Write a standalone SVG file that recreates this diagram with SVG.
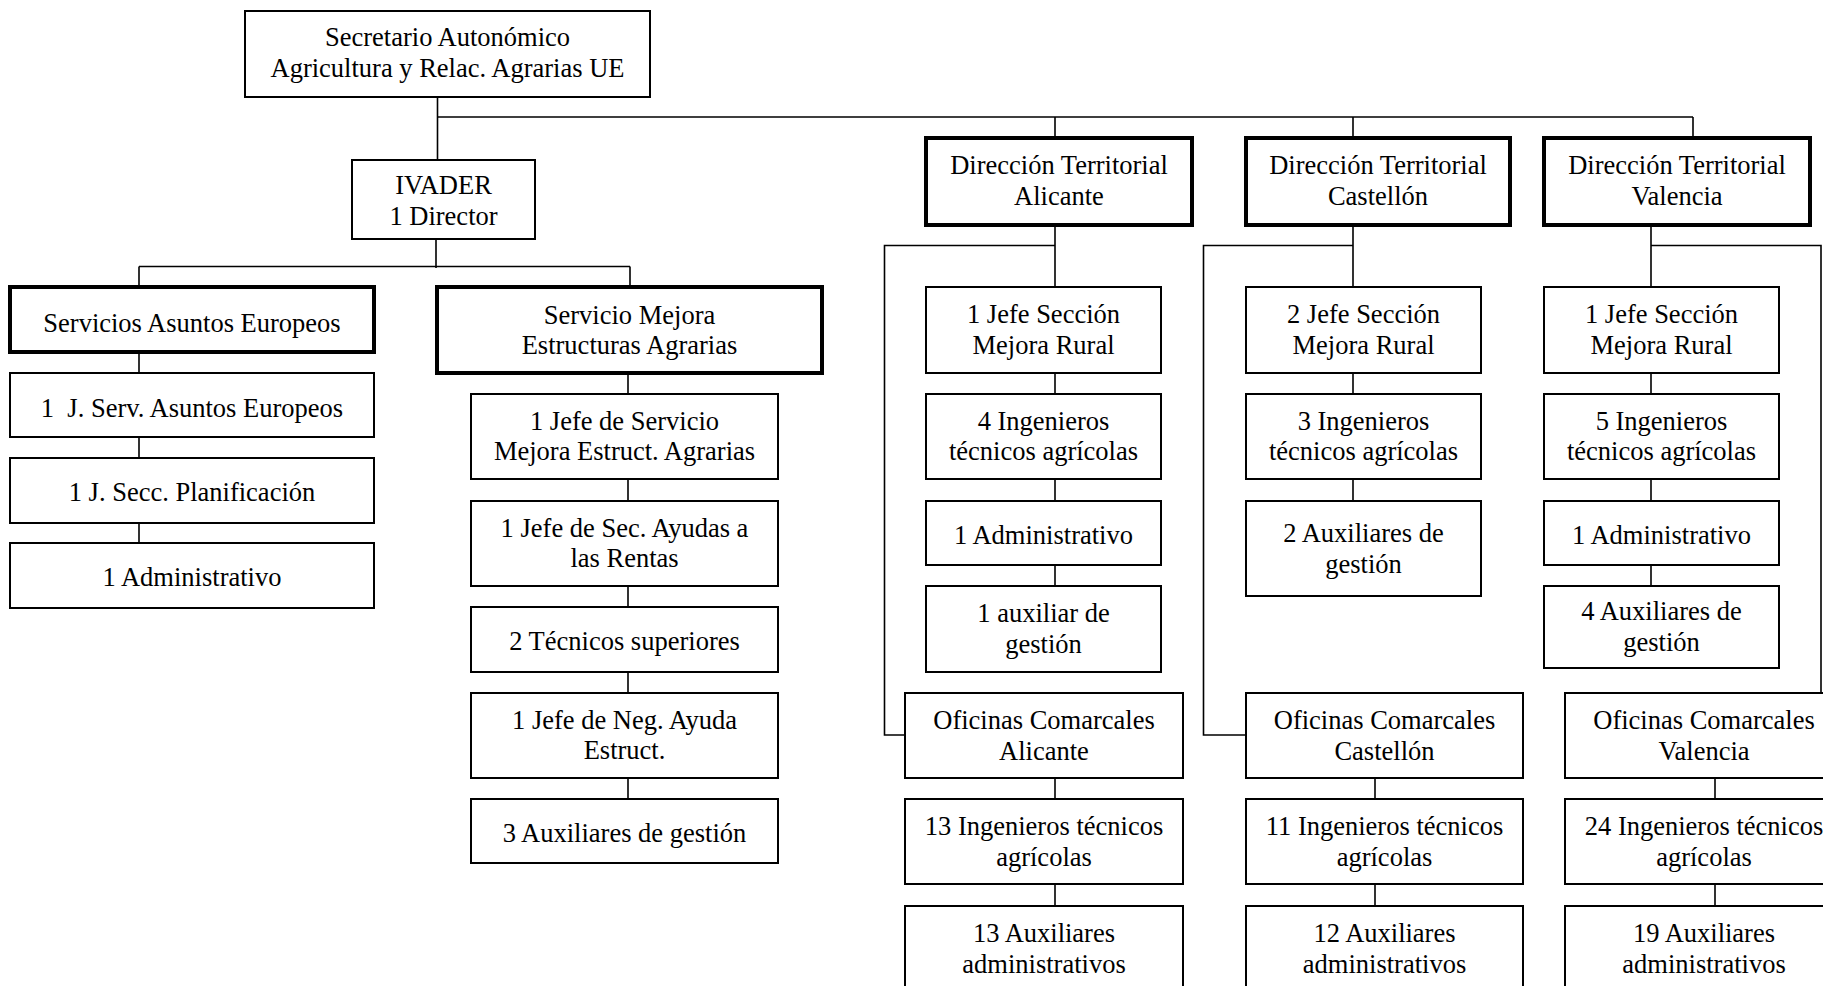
<svg xmlns="http://www.w3.org/2000/svg" width="1823" height="986" viewBox="0 0 1823 986">
<style>
.b{fill:#fff;stroke:#000;stroke-width:2}
.t{fill:#fff;stroke:#000;stroke-width:4}
.c{fill:none;stroke:#000;stroke-width:1.6}
text{font-family:"Liberation Serif","Times New Roman",serif;font-size:26.5px;fill:#000;text-anchor:middle}
</style>
<rect width="1823" height="986" fill="#fff"/>
<g id="connectors">
<path class="c" d="M437.5 97V160M437.5 117H1693M1055 117V138M1353 117V138M1693 117V138"/>
<path class="c" d="M436 239V268M139 266.5H630M139 266.5V287M630 266.5V287"/>
<path class="c" d="M139 352V373M139 437V458M139 523V543"/>
<path class="c" d="M628 373V394M628 479V501M628 586V607M628 672V693M628 778V799"/>
<path class="c" d="M1055 225V287M1055 373V394M1055 479V501M1055 565V586M1055 245.5H884.5V735H905"/>
<path class="c" d="M1055 778V799M1055 884V906"/>
<path class="c" d="M1353 225V287M1353 373V394M1353 479V501M1353 245.5H1203.5V735H1246"/>
<path class="c" d="M1375 778V799M1375 884V906"/>
<path class="c" d="M1651 225V287M1651 373V394M1651 479V501M1651 565V586M1651 245.5H1821V693"/>
<path class="c" d="M1715 778V799M1715 884V906"/>
</g>
<g id="n-secretario"><rect class="b" x="245" y="11" width="405" height="86"/><text x="447.5" y="46">Secretario Autonómico</text><text x="447.5" y="77">Agricultura y Relac. Agrarias UE</text></g>
<g id="n-ivader"><rect class="b" x="352" y="160" width="183" height="79"/><text x="443.5" y="194">IVADER</text><text x="443.5" y="224.5">1 Director</text></g>
<g id="n-sae"><rect class="t" x="10" y="287" width="364" height="65"/><text x="192" y="332">Servicios Asuntos Europeos</text></g>
<g id="n-sme"><rect class="t" x="437" y="287" width="385" height="86"/><text x="629.5" y="324">Servicio Mejora</text><text x="629.5" y="354">Estructuras Agrarias</text></g>
<g id="n-jserv"><rect class="b" x="10" y="373" width="364" height="64"/><text x="192" y="417" xml:space="preserve">1  J. Serv. Asuntos Europeos</text></g>
<g id="n-jsecc"><rect class="b" x="10" y="458" width="364" height="65"/><text x="192" y="501">1 J. Secc. Planificación</text></g>
<g id="n-adm1"><rect class="b" x="10" y="543" width="364" height="65"/><text x="192" y="586">1 Administrativo</text></g>
<g id="n-jefeserv"><rect class="b" x="471" y="394" width="307" height="85"/><text x="624.5" y="430">1 Jefe de Servicio</text><text x="624.5" y="460">Mejora Estruct. Agrarias</text></g>
<g id="n-jefesec"><rect class="b" x="471" y="501" width="307" height="85"/><text x="624.5" y="537">1 Jefe de Sec. Ayudas a</text><text x="624.5" y="567">las Rentas</text></g>
<g id="n-tecsup"><rect class="b" x="471" y="607" width="307" height="65"/><text x="624.5" y="650">2 Técnicos superiores</text></g>
<g id="n-jefeneg"><rect class="b" x="471" y="693" width="307" height="85"/><text x="624.5" y="729">1 Jefe de Neg. Ayuda</text><text x="624.5" y="759">Estruct.</text></g>
<g id="n-aux3"><rect class="b" x="471" y="799" width="307" height="64"/><text x="624.5" y="842">3 Auxiliares de gestión</text></g>

<g id="n-dt-ali"><rect class="t" x="926" y="138" width="266" height="87"/><text x="1059" y="174">Dirección Territorial</text><text x="1059" y="205">Alicante</text></g>
<g id="n-dt-cas"><rect class="t" x="1246" y="138" width="264" height="87"/><text x="1378" y="174">Dirección Territorial</text><text x="1378" y="205">Castellón</text></g>
<g id="n-dt-val"><rect class="t" x="1544" y="138" width="266" height="87"/><text x="1677" y="174">Dirección Territorial</text><text x="1677" y="205">Valencia</text></g>

<g id="n-ali-jefe"><rect class="b" x="926" y="287" width="235" height="86"/><text x="1043.5" y="323">1 Jefe Sección</text><text x="1043.5" y="354">Mejora Rural</text></g>
<g id="n-ali-ing"><rect class="b" x="926" y="394" width="235" height="85"/><text x="1043.5" y="430">4 Ingenieros</text><text x="1043.5" y="460">técnicos agrícolas</text></g>
<g id="n-ali-adm"><rect class="b" x="926" y="501" width="235" height="64"/><text x="1043.5" y="544">1 Administrativo</text></g>
<g id="n-ali-aux"><rect class="b" x="926" y="586" width="235" height="86"/><text x="1043.5" y="622">1 auxiliar de</text><text x="1043.5" y="653">gestión</text></g>

<g id="n-cas-jefe"><rect class="b" x="1246" y="287" width="235" height="86"/><text x="1363.5" y="323">2 Jefe Sección</text><text x="1363.5" y="354">Mejora Rural</text></g>
<g id="n-cas-ing"><rect class="b" x="1246" y="394" width="235" height="85"/><text x="1363.5" y="430">3 Ingenieros</text><text x="1363.5" y="460">técnicos agrícolas</text></g>
<g id="n-cas-aux"><rect class="b" x="1246" y="501" width="235" height="95"/><text x="1363.5" y="542">2 Auxiliares de</text><text x="1363.5" y="573">gestión</text></g>

<g id="n-val-jefe"><rect class="b" x="1544" y="287" width="235" height="86"/><text x="1661.5" y="323">1 Jefe Sección</text><text x="1661.5" y="354">Mejora Rural</text></g>
<g id="n-val-ing"><rect class="b" x="1544" y="394" width="235" height="85"/><text x="1661.5" y="430">5 Ingenieros</text><text x="1661.5" y="460">técnicos agrícolas</text></g>
<g id="n-val-adm"><rect class="b" x="1544" y="501" width="235" height="64"/><text x="1661.5" y="544">1 Administrativo</text></g>
<g id="n-val-aux"><rect class="b" x="1544" y="586" width="235" height="82"/><text x="1661.5" y="620">4 Auxiliares de</text><text x="1661.5" y="651">gestión</text></g>

<g id="n-ali-of"><rect class="b" x="905" y="693" width="278" height="85"/><text x="1044" y="729">Oficinas Comarcales</text><text x="1044" y="760">Alicante</text></g>
<g id="n-ali-ing2"><rect class="b" x="905" y="799" width="278" height="85"/><text x="1044" y="835">13 Ingenieros técnicos</text><text x="1044" y="866">agrícolas</text></g>
<g id="n-ali-aux2"><rect class="b" x="905" y="906" width="278" height="100"/><text x="1044" y="942">13 Auxiliares</text><text x="1044" y="973">administrativos</text></g>

<g id="n-cas-of"><rect class="b" x="1246" y="693" width="277" height="85"/><text x="1384.5" y="729">Oficinas Comarcales</text><text x="1384.5" y="760">Castellón</text></g>
<g id="n-cas-ing2"><rect class="b" x="1246" y="799" width="277" height="85"/><text x="1384.5" y="835">11 Ingenieros técnicos</text><text x="1384.5" y="866">agrícolas</text></g>
<g id="n-cas-aux2"><rect class="b" x="1246" y="906" width="277" height="100"/><text x="1384.5" y="942">12 Auxiliares</text><text x="1384.5" y="973">administrativos</text></g>

<g id="n-val-of"><rect class="b" x="1565" y="693" width="278" height="85"/><text x="1704" y="729">Oficinas Comarcales</text><text x="1704" y="760">Valencia</text></g>
<g id="n-val-ing2"><rect class="b" x="1565" y="799" width="278" height="85"/><text x="1704" y="835">24 Ingenieros técnicos</text><text x="1704" y="866">agrícolas</text></g>
<g id="n-val-aux2"><rect class="b" x="1565" y="906" width="278" height="100"/><text x="1704" y="942">19 Auxiliares</text><text x="1704" y="973">administrativos</text></g>
</svg>
